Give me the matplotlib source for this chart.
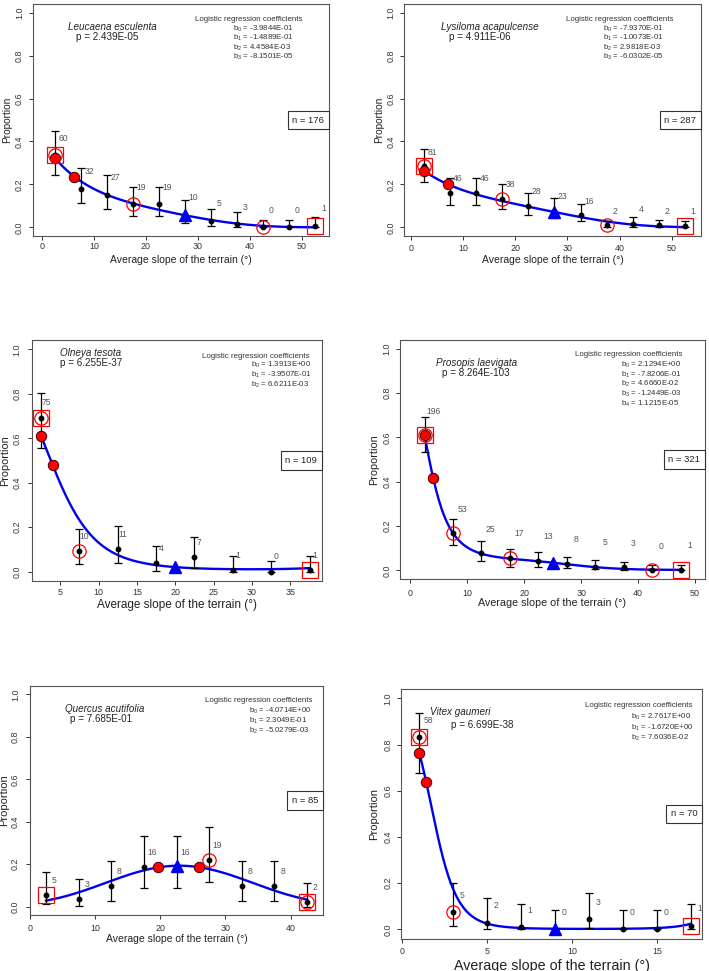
import matplotlib
matplotlib.use("Agg")
import matplotlib.pyplot as plt
import numpy as np
from matplotlib.offsetbox import AnchoredText

plt.rcParams["font.family"] = ["Liberation Sans", "DejaVu Sans"]
plt.rcParams["mathtext.fontset"] = "custom"
plt.rcParams["mathtext.rm"] = "Liberation Sans"
plt.rcParams["mathtext.it"] = "Liberation Sans:italic"

W, H = 709, 971

# ---- data ----
species = ["Leucaena esculenta", "Lysiloma acapulcense", "Olneya tesota",
           "Prosopis laevigata", "Quercus acutifolia", "Vitex gaumeri"]
p_values = ["2.439E-05", "4.911E-06", "6.255E-37", "8.264E-103", "7.685E-01", "6.699E-38"]
n_total = [176, 287, 109, 321, 85, 70]

coef_leucaena = ["-3.9844E-01", "-1.4889E-01", "4.4584E-03", "-8.1501E-05"]
coef_lysiloma = ["-7.9370E-01", "-1.0073E-01", "2.9818E-03", "-6.0302E-05"]
coef_olneya = ["1.3913E+00", "-3.9507E-01", "6.6211E-03"]
coef_prosopis = ["2.1294E+00", "-7.8206E-01", "4.6660E-02", "-1.2449E-03", "1.1215E-05"]
coef_quercus = ["-4.0714E+00", "2.3049E-01", "-5.0279E-03"]
coef_vitex = ["2.7617E+00", "-1.6720E+00", "7.6036E-02"]

slope_leucaena = [2.5, 7.5, 12.5, 17.5, 22.5, 27.5, 32.5, 37.5, 42.5, 47.5, 52.5]
count_leucaena = [60, 32, 27, 19, 19, 10, 5, 3, 0, 0, 1]
prop_leucaena = [0.335, 0.181, 0.153, 0.110, 0.110, 0.060, 0.031, 0.016, 0.0, 0.0, 0.008]
lo_leucaena = [0.245, 0.112, 0.085, 0.054, 0.054, 0.022, 0.006, 0.003, 0.0, 0.0, 0.0]
hi_leucaena = [0.450, 0.276, 0.245, 0.190, 0.190, 0.126, 0.085, 0.070, 0.034, 0.036, 0.050]

slope_lysiloma = [2.5, 7.5, 12.5, 17.5, 22.5, 27.5, 32.5, 37.5, 42.5, 47.5, 52.5]
count_lysiloma = [81, 46, 46, 38, 28, 23, 16, 2, 4, 2, 1]
prop_lysiloma = [0.284, 0.161, 0.161, 0.132, 0.099, 0.078, 0.056, 0.009, 0.016, 0.009, 0.006]
lo_lysiloma = [0.212, 0.105, 0.105, 0.084, 0.057, 0.043, 0.029, 0.001, 0.003, 0.001, 0.0]
hi_lysiloma = [0.364, 0.231, 0.231, 0.200, 0.161, 0.138, 0.107, 0.031, 0.048, 0.036, 0.031]

slope_olneya = [2.5, 7.5, 12.5, 17.5, 22.5, 27.5, 32.5, 37.5]
count_olneya = [75, 10, 11, 4, 7, 1, 0, 1]
prop_olneya = [0.693, 0.093, 0.102, 0.037, 0.064, 0.0075, 0.0, 0.0075]
lo_olneya = [0.558, 0.033, 0.040, 0.005, 0.018, 0.0, 0.0, 0.0]
hi_olneya = [0.805, 0.192, 0.205, 0.117, 0.157, 0.072, 0.050, 0.072]

slope_prosopis = [2.5, 7.5, 12.5, 17.5, 22.5, 27.5, 32.5, 37.5, 42.5, 47.5]
count_prosopis = [196, 53, 25, 17, 13, 8, 5, 3, 0, 1]
prop_prosopis = [0.610, 0.167, 0.078, 0.056, 0.044, 0.030, 0.0165, 0.0135, 0.0, 0.003]
lo_prosopis = [0.535, 0.116, 0.042, 0.0165, 0.017, 0.009, 0.0045, 0.002, 0.0, 0.0]
hi_prosopis = [0.690, 0.232, 0.131, 0.098, 0.081, 0.062, 0.048, 0.038, 0.0225, 0.024]

slope_quercus = [2.5, 7.5, 12.5, 17.5, 22.5, 27.5, 32.5, 37.5, 42.5]
count_quercus = [5, 3, 8, 16, 16, 19, 8, 8, 2]
prop_quercus = [0.0565, 0.0345, 0.096, 0.187, 0.1875, 0.221, 0.096, 0.096, 0.0235]
lo_quercus = [0.0125, 0.004, 0.027, 0.086, 0.086, 0.115, 0.027, 0.027, 0.0]
hi_quercus = [0.165, 0.132, 0.217, 0.331, 0.331, 0.374, 0.217, 0.217, 0.113]

slope_vitex = [1, 3, 5, 7, 9, 11, 13, 15, 17]
count_vitex = [58, 5, 2, 1, 0, 3, 0, 0, 1]
prop_vitex = [0.831, 0.075, 0.029, 0.010, 0.0, 0.0447, 0.0, 0.0, 0.016]
lo_vitex = [0.675, 0.0144, 0.003, 0.0, 0.0, 0.004, 0.0, 0.0, 0.0]
hi_vitex = [0.935, 0.199, 0.136, 0.111, 0.082, 0.159, 0.082, 0.082, 0.111]

# marked points: filled red circles and blue triangle sit on the fitted curve
red_x = [[2.5, 6.2], [2.5, 7.1], [2.5, 4.0], [2.5, 4.0], [19.7, 26.0], [1.0, 1.4]]
tri_x = [27.5, 27.5, 20.0, 25.0, 22.5, 9.0]
# indices of observed points with open red squares / circles
square_idx = [[0, 10], [0, 10], [0, 7], [0, 9], [0, 8], [0, 8]]
circle_idx = [[0, 3, 8], [0, 3, 7], [0, 1], [0, 1, 3, 8], [5, 8], [0, 1]]

coefs = [coef_leucaena, coef_lysiloma, coef_olneya, coef_prosopis, coef_quercus, coef_vitex]
slopes = [slope_leucaena, slope_lysiloma, slope_olneya, slope_prosopis, slope_quercus, slope_vitex]
counts = [count_leucaena, count_lysiloma, count_olneya, count_prosopis, count_quercus, count_vitex]
props = [prop_leucaena, prop_lysiloma, prop_olneya, prop_prosopis, prop_quercus, prop_vitex]
los = [lo_leucaena, lo_lysiloma, lo_olneya, lo_prosopis, lo_quercus, lo_vitex]
his = [hi_leucaena, hi_lysiloma, hi_olneya, hi_prosopis, hi_quercus, hi_vitex]

# ---- layout (pixels: left, right, top, bottom) ----
rect_px = [(33, 329, 4, 236), (404, 701, 4, 236),
           (32, 322, 340.4, 580.6), (400, 705, 339.8, 579.2),
           (29.7, 323.3, 685.8, 915.2), (401, 702.3, 689.1, 938.5)]
xlims = [(-1.73, 55.19), (-1.28, 55.55), (1.31, 39.13), (-1.81, 51.76), (0, 45.0), (-0.08, 17.66)]
xticks = [range(0, 51, 10), range(0, 51, 10), range(5, 36, 5), range(0, 51, 10),
          range(0, 41, 10), range(0, 16, 5)]
lab_off = [(1.6, 0.078), (1.57, 0.066), (0.63, 0.067), (1.63, 0.108), (1.25, 0.068), (0.51, 0.073)]
sp_pos = [(0.269, 0.902, 0.252, 0.856, "center"), (0.290, 0.902, 0.256, 0.856, "center"),
          (0.097, 0.946, 0.097, 0.905, "left"), (0.251, 0.902, 0.249, 0.860, "center"),
          (0.256, 0.899, 0.243, 0.854, "center"), (0.195, 0.907, 0.270, 0.856, "center")]
head_pos = [(0.730, 0.934), (0.725, 0.934), (0.772, 0.935), (0.750, 0.937), (0.781, 0.934), (0.790, 0.934)]
# coefficient block: left x, centre y of first line, line step (axes fraction), line spacing
b_pos = [(0.676, 0.885, 0.035, 0.86), (0.671, 0.885, 0.035, 0.86), (0.754, 0.896, 0.040, 1.02),
         (0.724, 0.888, 0.037, 0.94), (0.748, 0.887, 0.039, 0.95), (0.765, 0.887, 0.041, 1.09)]
ypad = [3.4, 2.9, 4.5, 2.9, 4.0, 2.9]
xpad = [1.5, 3.0, 2.0, 4.0, 3.0, 3.0]
ylab_gap = [26, 25, 26.5, 25.5, 26, 26.5]
xlab_gap = [24, 24, 24, 24, 24, 27]
xlab_size = [7.5, 7.5, 8.5, 7.75, 7.5, 10.3]
ylab_size = [7.3, 7.3, 7.8, 7.8, 8.0, 8.1]

fig = plt.figure(figsize=(W / 100, H / 100), dpi=100)
frame_col = "#555555"

for i in range(6):
    l, r, t, b = rect_px[i]
    ax = fig.add_axes([l / W, 1 - b / H, (r - l) / W, (b - t) / H])
    bcoef = [float(c) for c in coefs[i]]

    def fitted(x):
        x = np.asarray(x, dtype=float)
        eta = sum(bk * x ** k for k, bk in enumerate(bcoef))
        return 1 / (1 + np.exp(-eta))

    xs = np.array(slopes[i], dtype=float)
    ps = np.array(props[i])
    lo = np.array(los[i])
    hi = np.array(his[i])

    xc = np.linspace(xs[0], xs[-1], 300)
    ax.plot(xc, fitted(xc), color="#0000ee", lw=1.7, zorder=2)

    ax.errorbar(xs, ps, yerr=[ps - lo, hi - ps], fmt="o", color="black", ms=3.2,
                elinewidth=0.9, capsize=3.0, capthick=0.9, zorder=3)

    rx = np.array(red_x[i])
    ax.plot(rx, fitted(rx), "o", ms=7.5, mfc="red", mec="#400000", mew=0.7, zorder=4)
    ax.plot([tri_x[i]], fitted([tri_x[i]]), "^", ms=8, color="#0000ee", zorder=4)

    si = square_idx[i]
    ax.plot(xs[si], ps[si], "s", ms=11.5, mfc="none", mec="red", mew=0.9, zorder=5)
    ci = circle_idx[i]
    ax.plot(xs[ci], ps[ci], "o", ms=9.6, mfc="none", mec="red", mew=0.9, zorder=5)

    dx, dy = lab_off[i]
    for xv, pv, c in zip(xs, ps, counts[i]):
        ax.text(xv + dx, pv + dy, str(c), fontsize=6.2, color="#555555",
                ha="center", va="center", zorder=6)

    sx, sy, px, py, ha = sp_pos[i]
    ax.text(sx, sy, species[i], transform=ax.transAxes, fontsize=7.1,
            style="italic", ha=ha, va="center", color="#222222")
    ax.text(px, py, "p = " + p_values[i], transform=ax.transAxes, fontsize=7.1,
            ha=ha, va="center", color="#222222")

    hx, hy = head_pos[i]
    ax.text(hx, hy, "Logistic regression coefficients", transform=ax.transAxes,
            fontsize=5.7, ha="center", va="center", color="#333333")
    bx, by, bstep, bls = b_pos[i]
    block = "\n".join("b$_{%d}$ = %s" % (k, c) for k, c in enumerate(coefs[i]))
    nlines = len(coefs[i])
    ax.text(bx, by - (nlines - 1) * bstep / 2, block, transform=ax.transAxes,
            fontsize=5.6, ha="left", va="center", linespacing=bls, color="#333333")

    at = AnchoredText("n = %d" % n_total[i], loc="center right", borderpad=0,
                      pad=0.5, frameon=True, prop=dict(size=6.8, color="#222222"))
    at.patch.set_boxstyle("square,pad=0")
    at.patch.set_edgecolor("#333333")
    at.patch.set_linewidth(0.8)
    ax.add_artist(at)

    ax.set_xlim(*xlims[i])
    ax.set_ylim(-0.04, 1.04)
    ax.set_xticks(list(xticks[i]))
    ax.set_yticks([0, 0.2, 0.4, 0.6, 0.8, 1.0])
    ax.set_yticklabels(["0.0", "0.2", "0.4", "0.6", "0.8", "1.0"])
    ax.tick_params(axis="y", labelrotation=90, length=3, width=0.7, pad=ypad[i],
                   labelsize=6.4, colors="#333333")
    ax.tick_params(axis="x", length=3, width=0.7, pad=xpad[i], labelsize=6.4,
                   colors="#333333")
    for lab in ax.get_yticklabels():
        lab.set_va("center")
    for sp in ax.spines.values():
        sp.set_color(frame_col)
        sp.set_linewidth(0.8)

    ax.set_xlabel("Average slope of the terrain (°)", fontsize=xlab_size[i], color="#222222")
    ax.xaxis.label.set_va("center")
    ax.xaxis.set_label_coords(0.5, -xlab_gap[i] / (b - t))
    ax.set_ylabel("Proportion", fontsize=ylab_size[i], color="#222222")
    ax.yaxis.label.set_va("center")
    ax.yaxis.set_label_coords(-ylab_gap[i] / (r - l), 0.5)

fig.savefig("out.png", dpi=100)
